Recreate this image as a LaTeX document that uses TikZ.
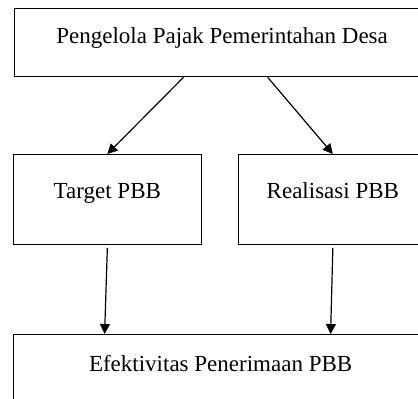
\documentclass[tikz,border=0pt]{standalone}
\usepackage{fontspec}
\setmainfont{Liberation Serif}
\usetikzlibrary{arrows.meta, positioning}

\begin{document}
\begin{tikzpicture}[x=0.5pt, y=-0.5pt,
  box/.style={rectangle, draw=black, line width=0.6pt, inner sep=0pt, anchor=north west, font=\fontsize{11.5}{14}\selectfont},
  arr/.style={-{Triangle[length=5pt, width=5pt]}, line width=0.6pt},
]
  \clip (0,0) rectangle (418,398);
  \node[box, minimum width=207.5pt, text height=17.75pt, text depth=16.5pt] (pengelola) at (14, 7.5) {Pengelola Pajak Pemerintahan Desa};

  \node[box, minimum width=94.25pt, text height=22pt, text depth=23pt] (target) at (12.5, 154) {Target PBB};
  \node[box, minimum width=94.25pt, text height=22pt, text depth=23pt] (realisasi) at (238, 154) {Realisasi PBB};

  \node[box, minimum width=207.5pt, text height=18.5pt, text depth=16.5pt] (efektivitas) at (12.5, 334) {Efektivitas Penerimaan PBB};

  \draw[arr] ([xshift=-19.25pt]pengelola.south) -- (target.north);
  \draw[arr] ([xshift=22.75pt]pengelola.south) -- (realisasi.north);
  \draw[arr] ([yshift=-1.3pt]target.south) -- ([xshift=-58pt]efektivitas.north);
  \draw[arr] ([yshift=-1.3pt]realisasi.south) -- ([xshift=55pt]efektivitas.north);
\end{tikzpicture}
\end{document}
